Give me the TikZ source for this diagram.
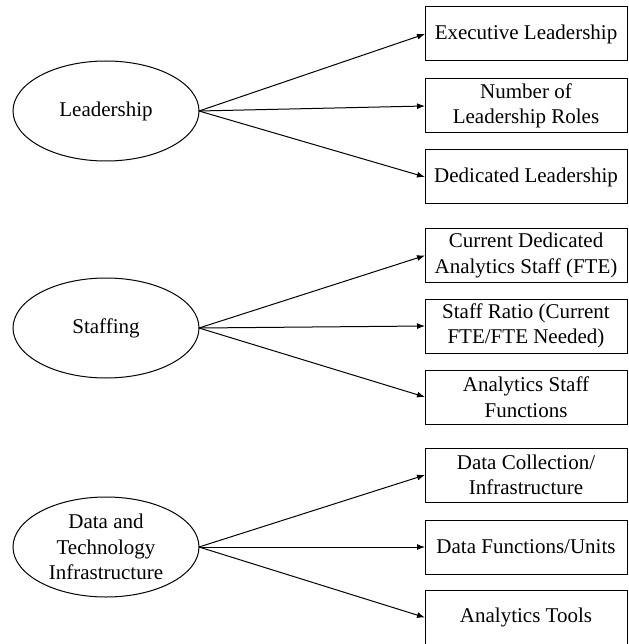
\documentclass[tikz,border=0pt]{standalone}
\usepackage{fontspec}
\setmainfont{Liberation Serif}
\usetikzlibrary{shapes.geometric,arrows.meta}
\begin{document}
\begin{tikzpicture}[x=1pt,y=-1pt,
  every node/.style={font=\fontsize{21}{25.5}\selectfont, align=center, inner sep=0pt, outer sep=0pt},
  oval/.style={draw, line width=1pt, ellipse, minimum width=186pt, minimum height=100pt},
  itembox/.style={draw, line width=1pt, rectangle, minimum width=202pt, minimum height=54pt},
  link/.style={line width=1pt, -{Latex[length=8pt,width=6pt]}}]
\useasboundingbox (0,0) rectangle (628,644);
% ellipses
\node[oval] (lead) at (106,111) {Leadership};
\node[oval] (staff) at (106,328) {Staffing};
\node[oval] (data) at (106,547) {Data and\\Technology\\Infrastructure};
% boxes
\node[itembox] (b1) at (526,34) {Executive Leadership};
\node[itembox] (b2) at (526,106) {Number of\\Leadership Roles};
\node[itembox] (b3) at (526,177) {Dedicated Leadership};
\node[itembox] (b4) at (526,255.5) {Current Dedicated\\Analytics Staff (FTE)};
\node[itembox] (b5) at (526,326) {Staff Ratio (Current\\FTE/FTE Needed)};
\node[itembox] (b6) at (526,397) {Analytics Staff\\Functions};
\node[itembox] (b7) at (526,475) {Data Collection/\\Infrastructure};
\node[itembox] (b8) at (526,547) {Data Functions/Units};
\node[itembox] (b9) at (526,617.5) {Analytics Tools};
% connectors
\draw[link] (lead.east) -- (b1.west);
\draw[link] (lead.east) -- (b2.west);
\draw[link] (lead.east) -- (b3.west);
\draw[link] (staff.east) -- (b4.west);
\draw[link] (staff.east) -- (b5.west);
\draw[link] (staff.east) -- (b6.west);
\draw[link] (data.east) -- (b7.west);
\draw[link] (data.east) -- (b8.west);
\draw[link] (data.east) -- (b9.west);
\end{tikzpicture}
\end{document}
